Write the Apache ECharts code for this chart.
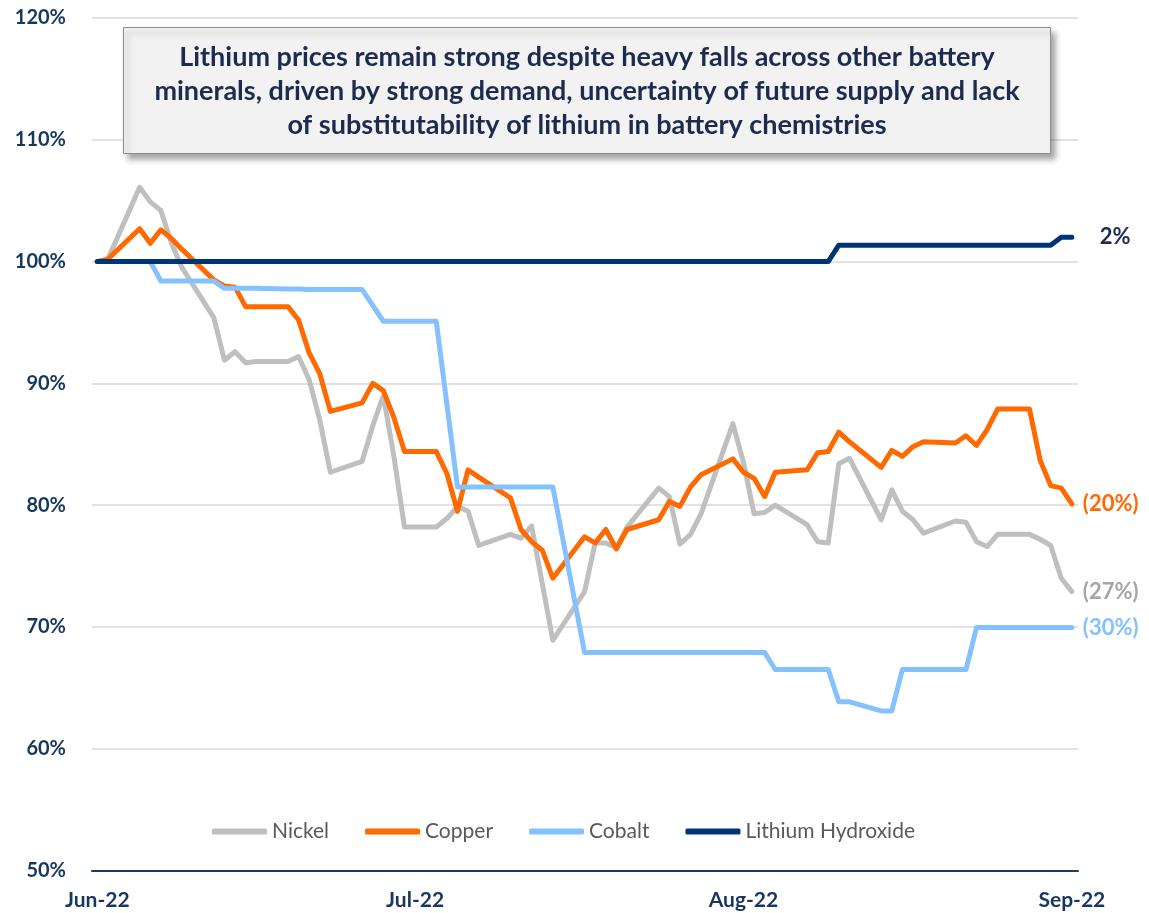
<!DOCTYPE html>
<html>
<head>
<meta charset="utf-8">
<script src="https://cdn.jsdelivr.net/npm/echarts@6/dist/echarts.min.js"></script>
<style>
  html, body { margin: 0; padding: 0; background: #fff; }
  #chart { width: 1149px; height: 913px; }
</style>
</head>
<body>
<div id="chart"></div>
<script>
// trading dates (as plotted)
const dates = [
  '2022-06-01', '2022-06-02', '2022-06-05', '2022-06-06', '2022-06-07', '2022-06-08', '2022-06-09',
  '2022-06-12', '2022-06-13', '2022-06-14', '2022-06-15', '2022-06-16', '2022-06-19', '2022-06-20',
  '2022-06-21', '2022-06-22', '2022-06-23', '2022-06-26', '2022-06-27', '2022-06-28', '2022-06-29',
  '2022-06-30',
  '2022-07-03', '2022-07-04', '2022-07-05', '2022-07-06', '2022-07-07', '2022-07-10', '2022-07-11',
  '2022-07-12', '2022-07-13', '2022-07-14', '2022-07-17', '2022-07-18', '2022-07-19', '2022-07-20',
  '2022-07-21', '2022-07-24', '2022-07-25', '2022-07-26', '2022-07-27', '2022-07-28', '2022-07-31',
  '2022-08-01', '2022-08-02', '2022-08-03', '2022-08-04', '2022-08-07', '2022-08-08', '2022-08-09',
  '2022-08-10', '2022-08-11', '2022-08-14', '2022-08-15', '2022-08-16', '2022-08-17', '2022-08-18',
  '2022-08-21', '2022-08-22', '2022-08-23', '2022-08-24', '2022-08-25', '2022-08-28', '2022-08-29',
  '2022-08-30', '2022-08-31',
  '2022-09-01'
];

// indexed prices, % of 1 Jun
const nickel = [
  100, 100.2, 106.1, 104.9, 104.2, 101.5, 99.5, 95.4, 91.9, 92.6, 91.7, 91.8, 91.8, 92.2,
  90.3, 87.0, 82.7, 83.6, 86.5, 89.0, 84.0, 78.2,
  78.2, 78.9, 79.9, 79.5, 76.7, 77.6, 77.3, 78.3, 73.6, 68.9, 72.9, 76.9, 76.9, 76.5,
  78.2, 81.4, 80.7, 76.8, 77.6, 79.3, 86.7,
  83.5, 79.3, 79.4, 80.0, 78.4, 77.0, 76.9, 83.4, 83.85, 78.8, 81.25, 79.5, 78.8, 77.7,
  78.7, 78.6, 77.0, 76.6, 77.6, 77.6, 77.2, 76.7, 74.0,
  72.9
];
const copper = [
  100, 100.2, 102.7, 101.5, 102.6, 101.9, 101.0, 98.5, 98.0, 97.9, 96.3, 96.3, 96.3, 95.2,
  92.5, 90.8, 87.7, 88.4, 90.0, 89.4, 87.2, 84.4,
  84.4, 82.6, 79.5, 82.9, 82.3, 80.6, 78.0, 77.0, 76.3, 74.0, 77.4, 76.9, 78.0, 76.4,
  78.0, 78.8, 80.3, 79.9, 81.5, 82.5, 83.8,
  82.7, 82.2, 80.7, 82.7, 82.9, 84.3, 84.4, 86.0, 85.2, 83.1, 84.5, 84.0, 84.8, 85.2,
  85.1, 85.7, 84.9, 86.2, 87.9, 87.9, 83.7, 81.6, 81.4,
  80.1
];
const cobalt = [
  100, 100, 100, 100, 98.4, 98.4, 98.4, 98.4, 97.8, 97.8, 97.8, 97.8, 97.75, 97.75,
  97.7, 97.7, 97.7, 97.7, 96.4, 95.1, 95.1, 95.1,
  95.1, 88.3, 81.5, 81.5, 81.5, 81.5, 81.5, 81.5, 81.5, 81.5, 67.9, 67.9, 67.9, 67.9,
  67.9, 67.9, 67.9, 67.9, 67.9, 67.9, 67.9,
  67.9, 67.9, 67.9, 66.5, 66.5, 66.5, 66.5, 63.85, 63.85, 63.1, 63.1, 66.5, 66.5, 66.5,
  66.5, 66.5, 69.95, 69.95, 69.95, 69.95, 69.95, 69.95, 69.95,
  69.95
];
const lithium = [
  100, 100, 100, 100, 100, 100, 100, 100, 100, 100, 100, 100, 100, 100,
  100, 100, 100, 100, 100, 100, 100, 100,
  100, 100, 100, 100, 100, 100, 100, 100, 100, 100, 100, 100, 100, 100,
  100, 100, 100, 100, 100, 100, 100,
  100, 100, 100, 100, 100, 100, 100, 101.35, 101.35, 101.35, 101.35, 101.35, 101.35, 101.35,
  101.35, 101.35, 101.35, 101.35, 101.35, 101.35, 101.35, 101.35, 102.0,
  102.0
];

const seriesNames = ['Nickel', 'Copper', 'Cobalt', 'Lithium Hydroxide'];
const endLabels = ['(27%)', '(20%)', '(30%)', '2%'];
const tickDates = ['2022-06-01', '2022-07-01', '2022-08-01', '2022-09-01'];
const tickLabels = ['Jun-22', 'Jul-22', 'Aug-22', 'Sep-22'];
const yTicks = [50, 60, 70, 80, 90, 100, 110, 120];

const titleText = 'Lithium prices remain strong despite heavy falls across other battery\n' +
  'minerals, driven by strong demand, uncertainty of future supply and lack\n' +
  'of substitutability of lithium in battery chemistries';

const colors = ['#BFBFBF', '#FF6A00', '#85C1FF', '#003478'];
const labelColors = ['#A6A6A6', '#FF6A00', '#85C1FF', '#1F2A55'];

function toTime(s) {
  const p = s.split('-');
  return Date.UTC(+p[0], +p[1] - 1, +p[2]);
}

const DAY = 24 * 3600 * 1000;
const tickTimes = tickDates.map(toTime);

const chart = echarts.init(document.getElementById('chart'));

const allValues = [nickel, copper, cobalt, lithium];
const series = allValues.map((vals, k) => ({
  name: seriesNames[k],
  type: 'line',
  data: dates.map((d, i) => [toTime(d), vals[i]]),
  showSymbol: false,
  symbol: 'none',
  color: colors[k],
  lineStyle: { width: 5, color: colors[k], cap: 'round', join: 'round' },
  emphasis: { disabled: true },
  endLabel: {
    show: true,
    formatter: endLabels[k],
    color: labelColors[k],
    fontFamily: 'Lato',
    fontWeight: 'bold',
    fontSize: 22,
    distance: k === 3 ? 28 : 11
  }
}));

chart.setOption({
  animation: false,
  backgroundColor: '#fff',
  grid: { left: 92, right: 71, top: 18, bottom: 42.5 },
  legend: {
    data: seriesNames,
    left: 207,
    top: 816,
    icon: 'roundRect',
    itemWidth: 55,
    itemHeight: 6,
    itemGap: 36,
    textStyle: { fontFamily: 'Lato', fontSize: 21, color: '#595959' }
  },
  xAxis: {
    // dates kept as timestamps on a value axis so labels can sit on month starts
    type: 'value',
    min: toTime(dates[0]) - 0.5 * DAY,
    max: toTime(dates[dates.length - 1]) + 0.58 * DAY,
    splitLine: { show: false },
    axisTick: { show: false },
    axisLine: { onZero: false, lineStyle: { color: '#1F3864', width: 2 } },
    axisLabel: {
      customValues: tickTimes,
      formatter: function (v) {
        const i = tickTimes.indexOf(v);
        return i >= 0 ? tickLabels[i] : '';
      },
      color: '#17375E',
      fontFamily: 'Lato',
      fontWeight: 'bold',
      fontSize: 21,
      margin: 19
    }
  },
  yAxis: {
    type: 'value',
    min: yTicks[0],
    max: yTicks[yTicks.length - 1],
    interval: 10,
    axisLine: { show: false },
    axisTick: { show: false },
    splitLine: { lineStyle: { color: '#D9D9D9', width: 1.5 } },
    axisLabel: {
      formatter: '{value}%',
      color: '#17375E',
      fontFamily: 'Lato',
      fontWeight: 'bold',
      fontSize: 20,
      margin: 26
    }
  },
  graphic: [
    {
      type: 'rect',
      left: 123,
      top: 27,
      shape: { width: 927, height: 126 },
      style: {
        fill: '#F2F2F2',
        stroke: '#8C8C8C',
        lineWidth: 1,
        shadowBlur: 6,
        shadowOffsetX: 4,
        shadowOffsetY: 5,
        shadowColor: 'rgba(0,0,0,0.35)'
      },
      z: 10
    },
    {
      type: 'text',
      x: 587,
      y: 91,
      style: {
        text: titleText,
        fill: '#1F2A4F',
        font: 'bold 27px Lato',
        align: 'center',
        verticalAlign: 'middle',
        lineHeight: 34
      },
      z: 11
    }
  ],
  series: series
});
</script>
</body>
</html>
